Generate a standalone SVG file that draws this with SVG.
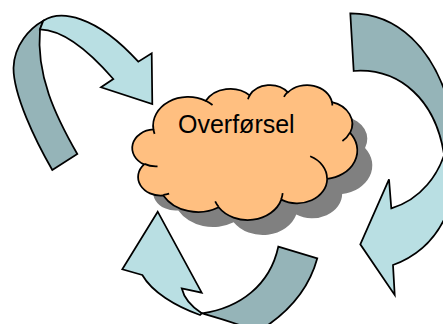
<svg xmlns="http://www.w3.org/2000/svg" width="443" height="324" viewBox="0 0 443 324">
  <style>
    .front{fill:#B9DFE3;stroke:#000;stroke-width:1.75;stroke-linejoin:miter}
    .back{fill:#95B4B8;stroke:#000;stroke-width:1.75;stroke-linejoin:miter}
    .cloud{fill:#FFBF80;stroke:#000;stroke-width:1.75}
    .cline{fill:none;stroke:#000;stroke-width:1.75}
    .shadow{fill:#808080;stroke:none}
    .label{font-family:"Liberation Sans",Arial,sans-serif;font-size:25px;fill:#000}
  </style>
  <defs>
    <path id="cloudShape" vector-effect="non-scaling-stroke" d="M3900,14370 A6753,9190 0 0 1 14005,5202 A5333,7267 0 0 1 22458,3434 A4365,5945 0 0 1 29836,2484 A4857,6595 0 0 1 38321,5579 A5333,7273 0 0 1 41821,15463 A6775,9220 0 0 1 37407,30204 A5785,7867 0 0 1 28558,36815 A6752,9215 0 0 1 16483,39267 A7720,10543 0 0 1 5808,35471 A4360,5918 0 0 1 2115,25551 A4345,5945 0 0 1 3900,14370 Z"/>
  </defs>
  <rect width="443" height="324" fill="#fff"/>
  <g id="connectors">
    <g id="arrow-top-left">
      <path class="back" d="M43.3,20.7 C30,28 14,45 13.5,68 C13.5,95 35,140 52.3,170 L77.3,154 C55,115 36,75 40,29.3 Z"/>
      <path class="front" d="M43.3,20.7 C60,10 95,14 138.3,61.7 L151.7,53.3 L152.3,104 L101,87.3 L113.3,79 C90,52 65,30 40,29.3 Z"/>
    </g>
    <g id="arrow-right">
      <path class="back" d="M350.3,13.3 C395,13 435,45 452,115 L452,175 L446,172 C441,95 395,68 353.7,71 Z"/>
      <path class="front" d="M447,145 C440,175 420,200 391.3,208.3 L389,179.3 L360.3,244.3 L394.7,295 L393,265 C420,255 440,235 450,205 Z"/>
    </g>
    <g id="arrow-bottom">
      <path class="back" d="M278.3,246.7 L317.3,258.3 C310,285 292,310 262,329 L250,329 C230,321 215,317 200,312.7 L202,313.3 C240,308 270,285 278.3,246.7 Z"/>
      <path class="front" d="M142.3,275 L122.3,269.3 L157.7,211.7 L201.7,292.7 L181.7,288.3 C184,298 192,307 201.7,313.3 L200,315 C175,306 152,292 142.3,275 Z"/>
    </g>
  </g>
  <g id="node-overforsel">
    <use href="#cloudShape" class="shadow" transform="translate(148.2,99.6) scale(0.0051852,0.0031238)"/>
    <g transform="translate(133.2,84.6) scale(0.0051852,0.0031238)">
      <use href="#cloudShape" class="cloud"/>
      <path class="cline" vector-effect="non-scaling-stroke" d="M4693,26177 A4345,5945 0 0 1 2160,25380 M6928,34899 A4360,5918 0 0 1 5819,35281 M16478,39090 A6752,9215 0 0 1 15810,37349 M28827,34751 A6752,9215 0 0 1 28560,36660 M34129,22954 A5785,7867 0 0 1 37381,30090 M41798,15354 A5333,7273 0 0 1 40350,18030 M38324,5426 A4857,6595 0 0 1 38400,6690 M29078,3952 A4857,6595 0 0 1 29820,2340 M22141,4720 A4365,5945 0 0 1 22500,3330 M14000,5192 A6753,9190 0 0 1 15301,6542 M4127,15789 A6753,9190 0 0 1 3900,14370"/>
    </g>
    <text class="label" x="178" y="132.7">Overførsel</text>
  </g>
</svg>
